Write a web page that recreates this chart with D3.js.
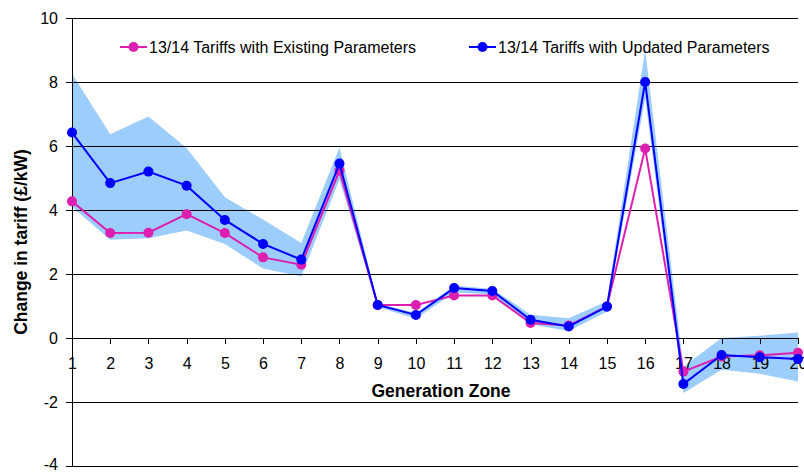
<!DOCTYPE html>
<html>
<head>
<meta charset="utf-8">
<script src="https://cdn.jsdelivr.net/npm/d3@7"></script>
<style>
	body { margin: 0; background: #fff; }
	text { font-family: "Liberation Sans", Arial, sans-serif; fill: #000; }
</style>
</head>
<body>
<div id="chart"></div>
<script>
var zones = [1, 2, 3, 4, 5, 6, 7, 8, 9, 10, 11, 12, 13, 14, 15, 16, 17, 18, 19, 20];
var existing = [4.27, 3.28, 3.29, 3.87, 3.28, 2.52, 2.29, 5.23, 1.03, 1.03, 1.33, 1.33, 0.47, 0.39, 0.99, 5.92, -1.05, -0.58, -0.54, -0.46];
var updated = [6.42, 4.84, 5.2, 4.76, 3.69, 2.94, 2.45, 5.45, 1.03, 0.72, 1.56, 1.47, 0.57, 0.36, 0.98, 8.0, -1.44, -0.53, -0.6, -0.66];
var bandHigh = [8.26, 6.37, 6.92, 5.94, 4.4, 3.7, 2.97, 5.95, 1.08, 0.78, 1.63, 1.54, 0.73, 0.62, 1.15, 9.0, -0.9, 0.0, 0.07, 0.17];
var bandLow = [4.1, 3.07, 3.12, 3.36, 2.94, 2.17, 1.92, 4.95, 0.97, 0.6, 1.42, 1.36, 0.43, 0.22, 0.83, 7.5, -1.72, -0.99, -1.12, -1.36];
var yTicks = [-4, -2, 0, 2, 4, 6, 8, 10];
var seriesNames = ["13/14 Tariffs with Existing Parameters", "13/14 Tariffs with Updated Parameters"];

var magenta = "#dd1fb0";
var blue = "#0000ff";
var bandColor = "#9dcdfb";

var width = 804, height = 473;
var svg = d3.select("#chart").append("svg")
	.attr("width", width)
	.attr("height", height);

var x = d3.scaleLinear().domain([1, 20]).range([72, 798]);
var y = d3.scaleLinear().domain([-4, 10]).range([466, 18]);

// band behind everything
var area = d3.area()
	.x(function(d, i) { return x(zones[i]); })
	.y0(function(d, i) { return y(bandLow[i]); })
	.y1(function(d) { return y(d); });

svg.append("path")
	.datum(bandHigh)
	.attr("d", area)
	.attr("fill", bandColor);

// gridlines (on top of the band, as in the original)
svg.append("g")
	.selectAll("line")
	.data(yTicks.filter(function(t) { return t !== 0; }))
	.enter()
	.append("line")
	.attr("x1", x(1))
	.attr("x2", x(20))
	.attr("y1", function(d) { return y(d); })
	.attr("y2", function(d) { return y(d); })
	.attr("stroke", "#000")
	.attr("stroke-width", 1)
	.attr("shape-rendering", "crispEdges");

// y axis - plain hyphen for negatives like the original
var yAxis = svg.append("g")
	.attr("transform", "translate(" + x(1) + ",0)")
	.call(d3.axisLeft(y).tickValues(yTicks).tickSize(6).tickPadding(8).tickFormat(function(d) { return String(d); }));
yAxis.selectAll("text").style("font-size", "16px").attr("font-family", "Liberation Sans, Arial, sans-serif");
yAxis.selectAll("text").filter(function(d) { return d === -4; }).attr("dy", "0.2em");
yAxis.selectAll("line, path").attr("stroke", "#000").attr("shape-rendering", "crispEdges");
yAxis.select(".domain").attr("d", "M0," + y(10) + "V" + y(-4));

// x axis on the zero line
var xAxis = svg.append("g")
	.attr("transform", "translate(0," + y(0) + ")")
	.call(d3.axisBottom(x).tickValues(zones).tickSize(6).tickPadding(14).tickFormat(function(d) { return String(d); }));
xAxis.selectAll("text").style("font-size", "16px").attr("font-family", "Liberation Sans, Arial, sans-serif");
xAxis.selectAll("line, path").attr("stroke", "#000").attr("shape-rendering", "crispEdges");
xAxis.select(".domain").attr("d", "M" + x(1) + ",0H" + x(20));

var line = d3.line()
	.x(function(d, i) { return x(zones[i]); })
	.y(function(d) { return y(d); });

function drawSeries(values, color) {
	svg.append("path")
		.datum(values)
		.attr("d", line)
		.attr("fill", "none")
		.attr("stroke", color)
		.attr("stroke-width", 2);
	svg.append("g")
		.selectAll("circle")
		.data(values)
		.enter()
		.append("circle")
		.attr("cx", function(d, i) { return x(zones[i]); })
		.attr("cy", function(d) { return y(d); })
		.attr("r", 5)
		.attr("fill", color);
}

drawSeries(existing, magenta);
drawSeries(updated, blue);

// legend
var legendItems = [
	{ name: seriesNames[0], color: magenta, x: 120 },
	{ name: seriesNames[1], color: blue, x: 469 }
];
var legend = svg.append("g").selectAll("g")
	.data(legendItems)
	.enter()
	.append("g")
	.attr("transform", function(d) { return "translate(" + d.x + ",47)"; });
legend.append("line")
	.attr("x1", 0).attr("x2", 27)
	.attr("stroke", function(d) { return d.color; })
	.attr("stroke-width", 2);
legend.append("circle")
	.attr("cx", 13.5).attr("r", 5)
	.attr("fill", function(d) { return d.color; });
legend.append("text")
	.attr("x", 29)
	.attr("y", 6)
	.style("font-size", "16px")
	.text(function(d) { return d.name; });

// axis titles
svg.append("text")
	.attr("x", 441)
	.attr("y", 397)
	.attr("text-anchor", "middle")
	.style("font-size", "17.5px")
	.style("font-weight", "bold")
	.text("Generation Zone");

svg.append("text")
	.attr("transform", "translate(27,242) rotate(-90)")
	.attr("text-anchor", "middle")
	.style("font-size", "17.5px")
	.style("font-weight", "bold")
	.text("Change in tariff (£/kW)");
</script>
</body>
</html>
